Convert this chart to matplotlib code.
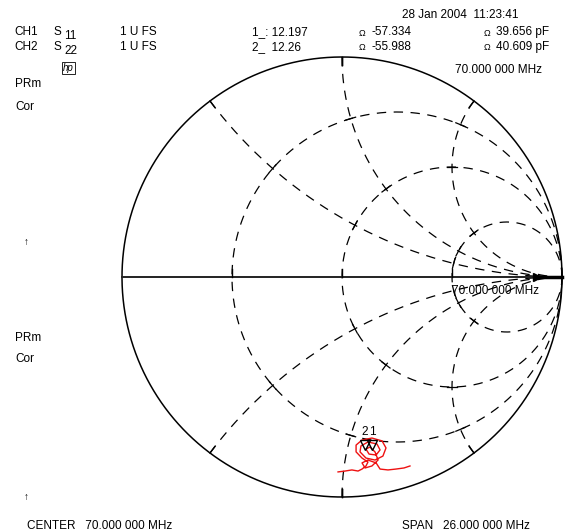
#Main imports
import numpy as np
import matplotlib
matplotlib.use('Agg')
import matplotlib.pyplot as plt

plt.rcParams['font.family'] = ['Liberation Sans', 'DejaVu Sans']

#Smith chart grid values (normalised)
r_circles = [1/3, 1.0, 3.0]
x_arcs = [0.5, 1.0, 2.0, -0.5, -1.0, -2.0]

trace_re = [-0.018, 0.014, 0.045, 0.073, 0.091, 0.109, 0.118, 0.091, 0.064, 0.064,
            0.091, 0.136, 0.182, 0.200, 0.186, 0.150, 0.109, 0.082, 0.086, 0.118,
            0.159, 0.173, 0.155, 0.123, 0.109, 0.127, 0.150, 0.164, 0.136, 0.105,
            0.091, 0.118, 0.155, 0.173, 0.209, 0.245, 0.282, 0.309]
trace_im = [-0.886, -0.882, -0.877, -0.882, -0.873, -0.859, -0.841, -0.823, -0.795, -0.764,
            -0.741, -0.732, -0.745, -0.777, -0.814, -0.832, -0.823, -0.795, -0.768, -0.750,
            -0.759, -0.786, -0.809, -0.805, -0.782, -0.773, -0.795, -0.832, -0.859, -0.868,
            -0.845, -0.832, -0.845, -0.873, -0.877, -0.873, -0.868, -0.859]

#Markers
marker_names = ['2', '1']
marker_re = [0.105, 0.136]
marker_im = [-0.764, -0.764]

#Header / footer text
header_rows = [
    ('CH1', '11', '1 U FS', '1_: 12.197', '-57.334', '39.656 pF'),
    ('CH2', '22', '1 U FS', '2_  12.26', '-55.988', '40.609 pF'),
]
timestamp = '28 Jan 2004  11:23:41'
freq_label = '70.000 000 MHz'
center_label = 'CENTER   70.000 000 MHz'
span_label = 'SPAN   26.000 000 MHz'

W, H = 568, 532
fig = plt.figure(figsize=(W / 100, H / 100), dpi=100)
fig.patch.set_facecolor('white')

#axes over the whole figure, unit circle centred at pixel (342, 277), radius 220
cx, cy, R = 342.0, 277.0, 220.0
ax = fig.add_axes([0, 0, 1, 1])
ax.set_xlim(-cx / R, (W - cx) / R)
ax.set_ylim(-(H - cy) / R, cy / R)
ax.axis('off')

def gamma(z):
    return (z - 1) / (z + 1)

dash = dict(color='black', lw=0.9, linestyle=(0, (7.5, 6)))

#constant resistance circles
t = np.linspace(0, 2 * np.pi, 400)
for r in r_circles:
    c = r / (1 + r)
    rad = 1 / (1 + r)
    ax.plot(c + rad * np.cos(t), rad * np.sin(t), **dash)

#constant reactance arcs
s = np.linspace(0, np.pi / 2 - 1e-3, 400)
for x in x_arcs:
    g = gamma(np.tan(s) + 1j * x)
    ax.plot(g.real, g.imag, **dash)

#small solid ticks where the grid lines cross
for r in r_circles:
    c = r / (1 + r)
    for x in x_arcs:
        p = gamma(r + 1j * x)
        d = p - c
        tang = 1j * d / abs(d) * (5 / R)
        ax.plot([(p - tang).real, (p + tang).real], [(p - tang).imag, (p + tang).imag],
                color='black', lw=0.9)

#outer circle and real axis
ax.plot(np.cos(t), np.sin(t), color='black', lw=1.1)
ax.plot([-1, 1], [0, 0], color='#222222', lw=1.4)
ax.plot([0.9, 1.0], [0, 0], color='black', lw=2.5)
ax.plot([0.885], [0], marker='>', color='black', ms=6)

#little ticks where the grid meets the outer circle and the axis
tk = 8 / R
for x in x_arcs:
    g = gamma(1j * x)
    ax.plot([g.real, g.real * (1 - tk)], [g.imag, g.imag * (1 - tk)], color='black', lw=1)
ax.plot([0, 0], [-1, -1 + tk], color='black', lw=1)
ax.plot([0, 0], [1, 1 - tk], color='black', lw=1)
for r in r_circles:
    g = gamma(r)
    ax.plot([g, g], [0, tk], color='black', lw=1)

#trace
ax.plot(trace_re, trace_im, color='#ee1111', lw=1.0)
ax.plot(marker_re, marker_im, linestyle='none', marker='v', ms=7,
        markerfacecolor='none', markeredgecolor='black', mew=1)
for name, mr, mi in zip(marker_names, marker_re, marker_im):
    ax.text(mr, mi + 0.06, name, fontsize=8.5, ha='center', va='center')

def put(x, y, s, size=8.5, **kw):
    fig.text(x / W, 1 - y / H, s, fontsize=size, ha='left', va='center', **kw)

put(402, 15, timestamp)
for row, y in zip(header_rows, (32, 47)):
    ch, sub, fs, mk, val, cap = row
    put(14, y, ch)
    put(54, y, 'S')
    put(64, y + 4, sub)
    put(120, y, fs)
    put(252, y, mk)
    put(359, y + 1, '\u03a9', size=6.5)
    put(371, y, val)
    put(484, y + 1, '\u03a9', size=6.5)
    put(496, y, cap)

put(63, 68, 'hp', size=7, style='italic',
    bbox=dict(boxstyle='square,pad=0.1', fc='white', ec='black', lw=0.6))
put(455, 70, freq_label)
put(452, 291, freq_label)

put(15, 84, 'PRm')
put(15, 107, 'Cor')
put(24, 242, '\u2191', size=7)
put(15, 338, 'PRm')
put(15, 359, 'Cor')
put(24, 497, '\u2191', size=7)

put(27, 526, center_label)
put(402, 526, span_label)

fig.savefig('out.png', dpi=100)
